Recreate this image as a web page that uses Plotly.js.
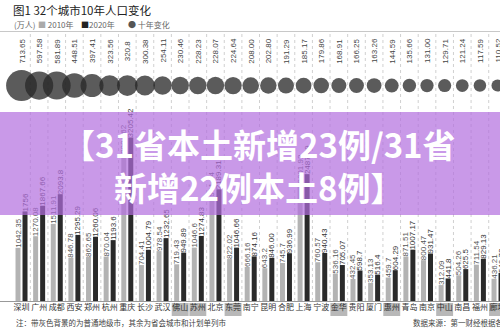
<!DOCTYPE html>
<html><head><meta charset="utf-8">
<script src="https://cdn.plot.ly/plotly-3.0.1.min.js"></script>
<style>html,body{margin:0;padding:0;background:#fff;overflow:hidden}#chart{width:500px;height:329px}</style>
</head><body><div id="chart"></div>
<script>
const cities = ['深圳','广州','成都','西安','郑州','杭州','重庆','长沙','武汉','佛山','苏州','北京','东莞','南宁','昆明','合肥','上海','宁波','金华','贵阳','厦门','惠州','青岛','南京','中山','南昌','福州','廊坊'];
const pop2010 = ['1042.35','1270.08','1511.91','846.78','862.65','870.04','2884.62','704.41','978.54','719.43','1046.6','1961.24','822.02','666.16','643.2','745.7','2301.92','760.57','536.16','432.45','353.13','459.7','871.51','800.47','312.09','504.26','711.54','436.21'];
const pop2020 = ['1756','1867.66','2093.8','1295.29','1260.06','1193.6','3205.42','1004.79','1232.65','949.89','1274.83','2189.31','1046.66','874.16','846.00','936.99','2487.09','940.43','705.07','598.7','516.4','604.29','1007.17','931.47','441.8','625.5','829.13','546.73'];
const change = ['713.65','597.58','581.89','448.51','397.41','323.56','320.8','300.38','254.11','230.46','228.23','228.07','224.64','208.00','202.80','191.29','185.17','179.86','168.91','166.25','163.26','144.59','135.66','131.00','129.71','121.24','117.59','110.52'];
const prefecture = [0,0,0,0,0,0,0,0,0,1,1,0,1,0,0,0,0,0,1,0,0,1,0,0,1,0,0,1];

const H = 329, W = 500;
const py = p => (H - p) / H;
const px = p => p / W;
const CJK = 'Noto Sans CJK SC';
const NUM = 'Liberation Sans';

const traces = [
  {type:'bar', x:cities, y:pop2010.map(Number), text:pop2010, textposition:'outside', textangle:-90,
   constraintext:'none', textfont:{family:NUM, size:8, color:'#555'}, marker:{color:'#b3b3b3'}, hoverinfo:'skip', name:'2010年'},
  {type:'bar', x:cities, y:pop2020.map(Number), text:pop2020, textposition:'outside', textangle:-90,
   constraintext:'none', textfont:{family:NUM, size:8, color:'#333'}, marker:{color:'#2a2a2a'}, hoverinfo:'skip', name:'2020年'},
  {type:'scatter', mode:'markers', x:cities, y:cities.map(() => '十年变化'), yaxis:'y2', cliponaxis:false,
   marker:{size:change.map(Number), sizemode:'area', sizeref:1.5, color:'rgb(40,40,40)', opacity:0.76, line:{width:0}},
   hoverinfo:'skip', name:'十年变化'}
];

const shapes = [];
for (let i = 0; i < cities.length - 1; i++) {
  shapes.push({type:'line', xref:'x', x0:i + 0.5, x1:i + 0.5, yref:'paper', y0:py(301), y1:py(31.5),
    line:{color:'#d0d0d0', width:1, dash:'dot'}, layer:'below'});
}
cities.forEach((c, i) => {
  if (prefecture[i]) shapes.push({type:'rect', xref:'x', x0:i - 0.48, x1:i + 0.48, yref:'paper', y0:py(316), y1:py(303),
    fillcolor:'#b8b8b8', line:{width:0}, layer:'below'});
});
shapes.push({type:'line', xref:'paper', x0:0, x1:1, yref:'paper', y0:py(31.5), y1:py(31.5), line:{color:'#c8c8c8', width:1}});
shapes.push({type:'line', xref:'paper', x0:0, x1:1, yref:'paper', y0:py(301.5), y1:py(301.5), line:{color:'#999', width:1}, layer:'below'});
shapes.push({type:'rect', xref:'paper', x0:0, x1:1, yref:'paper', y0:py(215), y1:py(112),
  fillcolor:'rgba(178,110,222,0.7)', line:{width:0}, layer:'above'});

const annotations = cities.map((c, i) => ({x:c, xref:'x', y:py(51), yref:'paper', text:change[i], textangle:-90,
  showarrow:false, xanchor:'center', yanchor:'middle', font:{family:NUM, size:8, color:'#444'}}));

annotations.push(
  {x:px(11), xref:'paper', y:py(10), yref:'paper', xanchor:'left', yanchor:'middle', showarrow:false,
   text:'图1 32个城市10年人口变化', font:{family:CJK, size:11.5, color:'#222'}},
  {x:px(12), xref:'paper', y:py(24), yref:'paper', xanchor:'left', yanchor:'middle', showarrow:false,
   text:'(万人)', font:{family:CJK, size:8, color:'#666'}},
  {x:px(36), xref:'paper', y:py(24), yref:'paper', xanchor:'left', yanchor:'middle', showarrow:false,
   text:'<span style="color:#aaa">■</span> 2010年', font:{family:CJK, size:8, color:'#666'}},
  {x:px(79), xref:'paper', y:py(24), yref:'paper', xanchor:'left', yanchor:'middle', showarrow:false,
   text:'<span style="color:#222">■</span>2020年', font:{family:CJK, size:8, color:'#666'}},
  {x:px(126), xref:'paper', y:py(24), yref:'paper', xanchor:'left', yanchor:'middle', showarrow:false,
   text:'<span style="color:#555">●</span> 十年变化', font:{family:CJK, size:8, color:'#666'}},
  {x:px(14), xref:'paper', y:py(322), yref:'paper', xanchor:'left', yanchor:'middle', showarrow:false,
   text:'注：带灰色背景的为普通地级市，其余为省会城市和计划单列市', font:{family:CJK, size:7.5, color:'#444'}},
  {x:px(411), xref:'paper', y:py(322), yref:'paper', xanchor:'left', yanchor:'middle', showarrow:false,
   text:'数据来源：第一财经根据各地统计公报', font:{family:CJK, size:7.5, color:'#444'}},
  {x:px(259), xref:'paper', y:py(165), yref:'paper', xanchor:'center', yanchor:'middle', showarrow:false,
   text:'<b>【31省本土新增23例/31省<br>新增22例本土8例】</b>', font:{family:CJK, size:33, color:'#fff'}}
);

const layout = {
  width:W, height:H, margin:{l:0, r:0, t:0, b:0}, showlegend:false,
  paper_bgcolor:'#fff', plot_bgcolor:'rgba(0,0,0,0)',
  barmode:'group', bargap:0.206, bargroupgap:0.286,
  xaxis:{type:'category', range:[-1.22, 27.14], showgrid:false, zeroline:false, showline:false, ticks:'',
    tickfont:{family:CJK, size:8, color:'#333'}, tickangle:0},
  yaxis:{domain:[py(301), 1], range:[0, 5900], visible:false},
  yaxis2:{domain:[0.69, 0.79], type:'category', range:[-1, 1], visible:false, anchor:'x'},
  shapes, annotations
};

Plotly.newPlot('chart', traces, layout, {staticPlot:true, displayModeBar:false});
</script></body></html>
